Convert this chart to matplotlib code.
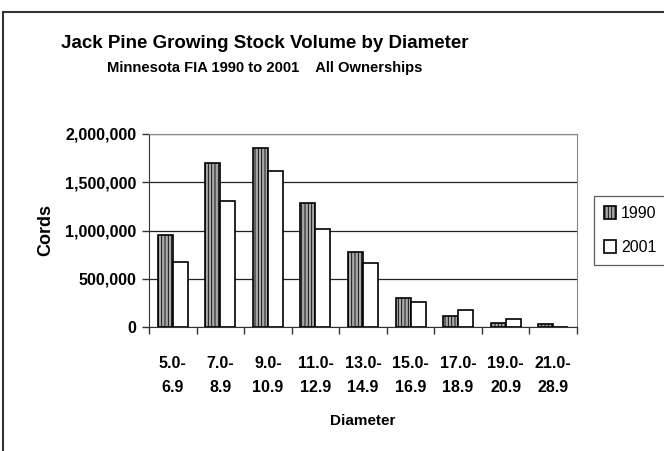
import matplotlib.pyplot as plt
import numpy as np
from matplotlib.patches import Rectangle

plt.rcParams['font.family'] = ['Liberation Sans', 'DejaVu Sans']
plt.rcParams['hatch.linewidth'] = 0.6

# data (cords)
diameters = ["5.0-\n6.9", "7.0-\n8.9", "9.0-\n10.9", "11.0-\n12.9", "13.0-\n14.9",
             "15.0-\n16.9", "17.0-\n18.9", "19.0-\n20.9", "21.0-\n28.9"]
vol_1990 = [956000, 1703000, 1852000, 1288000, 774000, 300000, 114000, 45000, 28000]
vol_2001 = [677000, 1306000, 1613000, 1012000, 666000, 262000, 173000, 80000, 3000]
yticks = [0, 500000, 1000000, 1500000, 2000000]

fig = plt.figure(figsize=(6.64, 4.51), dpi=100)
W, H = 664, 451

# outer chart frame
fig.patches.append(Rectangle((3 / W, -0.05), 1.2, 1 - 12 / H + 0.05, transform=fig.transFigure,
                             fill=False, edgecolor='#333333', linewidth=1.5))

ax = fig.add_axes([149 / W, 1 - 327 / H, (577 - 149) / W, (327 - 134) / H])

x = np.arange(len(diameters))
bw = 0.315
ax.bar(x - bw / 2, vol_1990, bw, facecolor='#a8a8a8', edgecolor='black', hatch='|||||',
       linewidth=1.2, label='1990', zorder=3)
ax.bar(x + bw / 2, vol_2001, bw, facecolor='white', edgecolor='black',
       linewidth=1.2, label='2001', zorder=3)

ax.set_xlim(-0.5, len(diameters) - 0.5)
ax.set_ylim(0, 2000000)
ax.set_yticks(yticks)
ax.set_yticklabels([f"{v:,}" for v in yticks], fontsize=11.5, fontweight='bold')
ax.yaxis.grid(True, color='#222222', linewidth=0.9, zorder=0)

ax.set_xticks(np.arange(len(diameters) + 1) - 0.5)
ax.set_xticklabels([])
ax.set_xticks(x, minor=True)
ax.set_xticklabels(diameters, minor=True, fontsize=11.5, fontweight='bold', linespacing=1.7)
ax.tick_params(axis='x', which='minor', length=0, pad=21)
ax.tick_params(axis='both', which='major', direction='out', length=5, width=1, color='#333333')
ax.tick_params(axis='y', pad=4)

for s in ['top', 'right']:
    ax.spines[s].set_color('#888888')
ax.spines['left'].set_color('#333333')
ax.spines['bottom'].set_color('#333333')

ax.set_ylabel("Cords", fontsize=13, fontweight='bold', labelpad=8)
ax.set_xlabel("Diameter", fontsize=11, fontweight='bold', labelpad=14)

fig.text(0.398, 1 - 43 / H, "Jack Pine Growing Stock Volume by Diameter",
         ha='center', va='center', fontsize=13.5, fontweight='bold')
fig.text(0.398, 1 - 68 / H, "Minnesota FIA 1990 to 2001    All Ownerships",
         ha='center', va='center', fontsize=10.6, fontweight='bold')

leg = fig.legend(loc='upper left', bbox_to_anchor=(594 / W, 1 - 196 / H), fontsize=11.5,
                 frameon=True, fancybox=False, edgecolor='#333333', handlelength=0.8,
                 handleheight=0.9, handletextpad=0.3, labelspacing=1.2, borderpad=0.6,
                 borderaxespad=0)
leg.get_frame().set_linewidth(0.9)

fig.savefig("out.png", dpi=100)
